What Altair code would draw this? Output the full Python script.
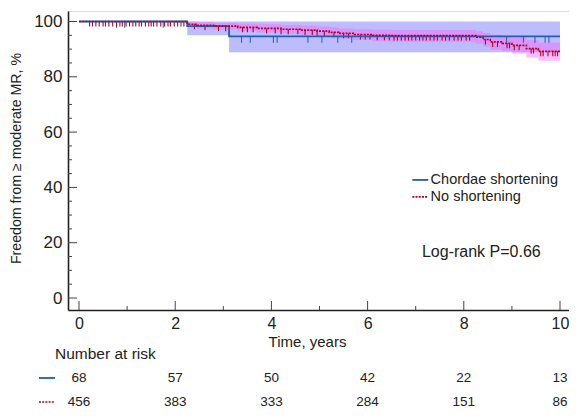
import altair as alt
import pandas as pd
import numpy as np

# ---- Data ----
# Chordae shortening (blue)
cs_t = [0, 2.25, 3.12, 10.0]
cs_s = [100, 98.3, 94.6, 94.6]
cs_lo = [100, 95.0, 88.9, 88.9]
cs_hi = [100, 100, 100, 100]
cs_censor = [0.78, 0.95, 1.75, 3.38, 3.56, 4.04, 4.12, 4.76, 5.05, 5.38, 5.67,
             8.89, 9.24, 9.48, 9.69, 9.77]

# No shortening (red)
ns_t = [0, 2.25, 2.45, 2.8, 3.3, 3.7, 4.2, 4.6, 4.95, 5.2, 5.4, 5.7, 6.1, 6.5,
        8.25, 8.4, 8.55, 8.8, 9.0, 9.3, 9.55, 10.0]
ns_s = [100, 99.0, 98.6, 98.3, 97.9, 97.5, 97.2, 96.9, 96.5, 96.1, 95.7, 95.3,
        95.0, 94.9, 94.3, 93.5, 92.6, 92.1, 91.4, 90.2, 89.2, 89.2]
ns_lo = [100, 98.0, 97.5, 97.1, 96.5, 96.0, 95.6, 95.2, 94.7, 94.2, 93.8, 93.3,
         92.9, 92.7, 92.0, 91.0, 89.9, 89.3, 88.4, 87.0, 85.8, 85.8]
ns_hi = [100, 100, 99.7, 99.5, 99.2, 99.0, 98.7, 98.5, 98.2, 97.9, 97.5, 97.2,
         97.0, 96.9, 96.5, 95.8, 95.2, 94.7, 94.2, 93.2, 92.3, 92.3]
ns_censor = [0.22, 0.28, 0.35, 0.42, 0.5, 0.55, 0.62, 0.7, 0.78, 0.85, 0.9, 0.98,
             1.05, 1.12, 1.18, 1.25, 1.3, 1.38, 1.45, 1.5, 1.55, 1.62, 1.7, 1.78,
             1.85, 1.9, 1.98, 2.05, 2.12, 2.18,
             2.4, 2.62, 2.9, 3.05, 3.4, 3.5, 3.62, 3.9, 4.08, 4.2, 4.35, 4.55,
             4.7, 4.85, 4.95, 5.1, 5.3, 5.5, 5.6, 5.85, 5.95, 6.05, 6.2, 6.35, 6.45,
             6.55, 6.62, 6.7, 6.78, 6.85, 6.92, 7.0, 7.08, 7.15, 7.22, 7.3, 7.38,
             7.45, 7.55, 7.62, 7.7, 7.8, 7.88, 7.95, 8.05, 8.12,
             8.45, 8.6, 8.7, 8.9, 8.95, 9.05, 9.15, 9.4, 9.45, 9.6, 9.65, 9.75,
             9.85, 9.9, 9.95]

risk_times = [0, 2, 4, 6, 8, 10]
risk_cs = [68, 57, 50, 42, 22, 13]
risk_ns = [456, 383, 333, 284, 151, 86]

x_major = [0, 2, 4, 6, 8, 10]
x_minor = [1, 3, 5, 7, 9]
y_major = [0, 20, 40, 60, 80, 100]
y_minor = [5, 10, 15, 25, 30, 35, 45, 50, 55, 65, 70, 75, 85, 90, 95]

legend_labels = ["Chordae shortening", "No shortening"]
annotation = "Log-rank P=0.66"

# ---- Styling ----
FONT = "Liberation Sans"
TXT = "#222222"
BLUE = "#1f5fae"
RED = "#b5001f"
W, H = 501, 299

xs = alt.Scale(domain=[-0.229, 10.187], nice=False, zero=False)
ys = alt.Scale(domain=[-4.34, 103.8], nice=False, zero=False)


def step_at(times, vals, t):
    i = int(np.searchsorted(times, t, side="right")) - 1
    return vals[max(i, 0)]


cs_df = pd.DataFrame({"t": cs_t, "s": cs_s, "lo": cs_lo, "hi": cs_hi})
ns_df = pd.DataFrame({"t": ns_t, "s": ns_s, "lo": ns_lo, "hi": ns_hi})
cs_cen = pd.DataFrame({"t": cs_censor,
                       "s": [step_at(cs_t, cs_s, t) for t in cs_censor]})
cs_cen["s2"] = cs_cen["s"] - 2.3
ns_cen = pd.DataFrame({"t": ns_censor,
                       "s": [step_at(ns_t, ns_s, t) for t in ns_censor]})
ns_cen["s2"] = ns_cen["s"] - 1.8

X = alt.X("t:Q", scale=xs, axis=alt.Axis(
    values=x_major, ticks=False, grid=False, labelFontSize=16, labelPadding=5,
    labelColor=TXT, labelFont=FONT, domainColor="#222", domainWidth=1.6,
    title="Time, years", titleFont=FONT, titleFontSize=15, titleFontWeight="normal",
    titleColor=TXT, titleX=239, titleY=36, titleAnchor="start", titleAlign="center",
    titleBaseline="alphabetic"))
Y = alt.Y("s:Q", scale=ys, axis=alt.Axis(
    values=y_major, ticks=False, grid=False, labelFontSize=17, labelPadding=6,
    labelColor=TXT, labelFont=FONT, domainColor="#222", domainWidth=1.6,
    title="Freedom from \u2265 moderate MR, %", titleFont=FONT, titleFontSize=14.2,
    titleFontWeight="normal", titleColor=TXT, titleX=-48, titleY=147,
    titleAngle=-90, titleAlign="center", titleBaseline="alphabetic",
    titleAnchor="start"))

cs_band = alt.Chart(cs_df).mark_area(interpolate="step-after", color="#6a6aff",
                                     opacity=0.45).encode(
    x=X, y=alt.Y("lo:Q", scale=ys), y2="hi:Q")
ns_band = alt.Chart(ns_df).mark_area(interpolate="step-after", color="#ff5cff",
                                     opacity=0.42).encode(
    x=alt.X("t:Q", scale=xs), y=alt.Y("lo:Q", scale=ys), y2="hi:Q")
cs_line = alt.Chart(cs_df).mark_line(interpolate="step-after", color=BLUE,
                                     strokeWidth=1.8).encode(x=alt.X("t:Q", scale=xs), y=Y)
ns_line = alt.Chart(ns_df).mark_line(interpolate="step-after", color=RED,
                                     strokeWidth=1.7, strokeDash=[2, 1.2]).encode(
    x=alt.X("t:Q", scale=xs), y=alt.Y("s:Q", scale=ys))
cs_ticks = alt.Chart(cs_cen).mark_rule(color=BLUE, strokeWidth=1).encode(
    x=alt.X("t:Q", scale=xs), y=alt.Y("s:Q", scale=ys), y2="s2:Q")
ns_ticks = alt.Chart(ns_cen).mark_rule(color=RED, strokeWidth=1.1).encode(
    x=alt.X("t:Q", scale=xs), y=alt.Y("s:Q", scale=ys), y2="s2:Q")

# manual axis ticks (pointing inward)
xmaj = alt.Chart(pd.DataFrame({"t": x_major})).mark_rule(color="#444", strokeWidth=1).encode(
    x=alt.X("t:Q", scale=xs), y=alt.value(H), y2=alt.value(H - 9))
xmin = alt.Chart(pd.DataFrame({"t": x_minor})).mark_rule(color="#444", strokeWidth=1).encode(
    x=alt.X("t:Q", scale=xs), y=alt.value(H), y2=alt.value(H - 4))
ymaj = alt.Chart(pd.DataFrame({"v": y_major})).mark_rule(color="#444", strokeWidth=1).encode(
    y=alt.Y("v:Q", scale=ys), x=alt.value(0), x2=alt.value(9))
ymin = alt.Chart(pd.DataFrame({"v": y_minor})).mark_rule(color="#444", strokeWidth=1).encode(
    y=alt.Y("v:Q", scale=ys), x=alt.value(0), x2=alt.value(4))

# legend (inside plot, data coordinates)
leg_df = pd.DataFrame({"x1": [6.93, 6.93], "x2": [7.26, 7.26], "y": [42.7, 36.6],
                       "label": legend_labels, "tx": [7.31, 7.31]})
leg_blue = alt.Chart(leg_df.iloc[[0]]).mark_rule(color=BLUE, strokeWidth=1.8).encode(
    x=alt.X("x1:Q", scale=xs), x2="x2:Q", y=alt.Y("y:Q", scale=ys))
leg_red = alt.Chart(leg_df.iloc[[1]]).mark_rule(color=RED, strokeWidth=1.7,
                                                strokeDash=[2, 1.2]).encode(
    x=alt.X("x1:Q", scale=xs), x2="x2:Q", y=alt.Y("y:Q", scale=ys))
leg_text = alt.Chart(leg_df).mark_text(align="left", baseline="middle", font=FONT,
                                       fontSize=14.5, color=TXT).encode(
    x=alt.X("tx:Q", scale=xs), y=alt.Y("y:Q", scale=ys), text="label:N")
ann = alt.Chart(pd.DataFrame({"x": [7.13], "y": [16.5], "label": [annotation]})).mark_text(
    align="left", baseline="middle", font=FONT, fontSize=16, color=TXT).encode(
    x=alt.X("x:Q", scale=xs), y=alt.Y("y:Q", scale=ys), text="label:N")

# number at risk table below the axis
nar_title = alt.Chart(pd.DataFrame({"label": ["Number at risk"]})).mark_text(
    align="left", baseline="middle", font=FONT, fontSize=15.5, color=TXT).encode(
    x=alt.value(-13), y=alt.value(343), text="label:N")
r1 = alt.Chart(pd.DataFrame({"t": risk_times, "n": risk_cs})).mark_text(
    baseline="middle", font=FONT, fontSize=13.5, color=TXT).encode(
    x=alt.X("t:Q", scale=xs), y=alt.value(367), text="n:Q")
r2 = alt.Chart(pd.DataFrame({"t": risk_times, "n": risk_ns})).mark_text(
    baseline="middle", font=FONT, fontSize=13.5, color=TXT).encode(
    x=alt.X("t:Q", scale=xs), y=alt.value(391), text="n:Q")
r1_key = alt.Chart(pd.DataFrame({"a": [0]})).mark_rule(color=BLUE, strokeWidth=1.8).encode(
    x=alt.value(-29), x2=alt.value(-13), y=alt.value(367))
r2_key = alt.Chart(pd.DataFrame({"a": [0]})).mark_rule(color=RED, strokeWidth=1.7,
                                                       strokeDash=[2, 1.2]).encode(
    x=alt.value(-29), x2=alt.value(-13), y=alt.value(391))

chart = alt.layer(
    cs_band, ns_band, cs_ticks, ns_ticks, cs_line, ns_line,
    xmaj, xmin, ymaj, ymin, leg_blue, leg_red, leg_text, ann,
    nar_title, r1, r2, r1_key, r2_key,
    alt.Chart(cs_df).mark_point(opacity=0).encode(x=X, y=Y),
).properties(
    width=W, height=H,
    autosize=alt.AutoSizeParams(type="none"),
    padding={"left": 60, "top": 3, "right": 0, "bottom": 98},
).configure_view(stroke=None).configure(background="white")

chart.save("out.html", embed_options={"renderer": "svg", "actions": False})
